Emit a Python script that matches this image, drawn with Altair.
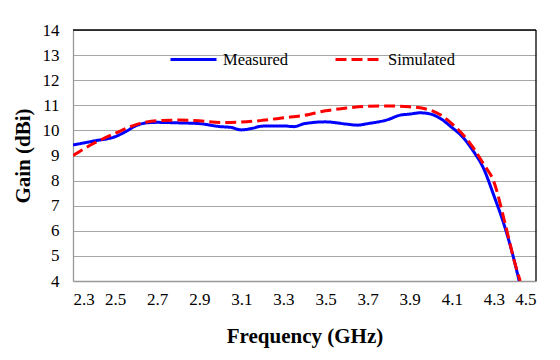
import altair as alt
import pandas as pd

measured_f = [2.30, 2.40, 2.50, 2.55, 2.60, 2.65, 2.70, 2.80, 2.90, 3.00, 3.05, 3.10, 3.15, 3.20,
              3.30, 3.35, 3.40, 3.50, 3.60, 3.65, 3.70, 3.80, 3.85, 3.90, 3.95, 4.00, 4.05, 4.10,
              4.15, 4.20, 4.25, 4.30, 4.35, 4.40, 4.42]
measured_g = [9.42, 9.58, 9.75, 9.95, 10.19, 10.30, 10.32, 10.30, 10.27, 10.15, 10.12, 10.02, 10.08, 10.17,
              10.18, 10.15, 10.27, 10.34, 10.25, 10.21, 10.27, 10.44, 10.60, 10.65, 10.70, 10.65, 10.45, 10.12,
              9.75, 9.20, 8.50, 7.40, 6.20, 4.70, 4.00]

simulated_f = [2.30, 2.40, 2.50, 2.60, 2.70, 2.80, 2.90, 3.00, 3.10, 3.20, 3.30, 3.40, 3.50, 3.60,
               3.70, 3.80, 3.90, 4.00, 4.05, 4.10, 4.15, 4.20, 4.25, 4.30, 4.35, 4.40, 4.425]
simulated_g = [9.00, 9.49, 9.88, 10.23, 10.39, 10.41, 10.38, 10.31, 10.33, 10.40, 10.50, 10.60, 10.78, 10.89,
               10.96, 10.97, 10.94, 10.80, 10.60, 10.27, 9.86, 9.33, 8.67, 7.95, 6.40, 4.70, 4.00]

series_names = ["Measured", "Simulated"]
series_colors = ["#0000ff", "#ff0000"]
x_ticks = [2.3, 2.5, 2.7, 2.9, 3.1, 3.3, 3.5, 3.7, 3.9, 4.1, 4.3, 4.5]
y_ticks = [4, 5, 6, 7, 8, 9, 10, 11, 12, 13, 14]

df = pd.concat([
    pd.DataFrame({"f": measured_f, "g": measured_g, "s": "Measured", "o": range(len(measured_f))}),
    pd.DataFrame({"f": simulated_f, "g": simulated_g, "s": "Simulated", "o": range(len(simulated_f))}),
])

W, H = 463, 251
FONT = "Liberation Serif"

lines = alt.Chart(df).mark_line(strokeWidth=3, interpolate="monotone", clip=True).encode(
    x=alt.X("f:Q", scale=alt.Scale(domain=[2.3, 4.5], nice=False, zero=False),
            axis=alt.Axis(values=x_ticks, format=".1f", title="Frequency (GHz)", grid=False,
                          ticks=False, labelPadding=10, titlePadding=18,
                          labelFont=FONT, titleFont=FONT)),
    y=alt.Y("g:Q", scale=alt.Scale(domain=[4, 14], nice=False, zero=False),
            axis=alt.Axis(values=y_ticks, title="Gain (dBi)", grid=True, ticks=False,
                          labelPadding=14, titlePadding=9,
                          labelFont=FONT, titleFont=FONT)),
    color=alt.Color("s:N", scale=alt.Scale(domain=series_names, range=series_colors),
                    legend=alt.Legend(title=None, orient="none", legendX=96, legendY=5,
                                      direction="horizontal", symbolType="stroke",
                                      symbolSize=2116, symbolStrokeWidth=3,
                                      labelFontSize=16.5, labelFont=FONT, labelColor="#000",
                                      columnPadding=40, labelOffset=5)),
    strokeDash=alt.StrokeDash("s:N", scale=alt.Scale(domain=series_names, range=[[1, 0], [11, 5]]),
                              legend=None),
    order="o:Q",
)

top_border = alt.Chart().mark_rule(color="#000", strokeWidth=1.3).encode(
    x=alt.value(0), x2=alt.value(W), y=alt.value(0))
right_border = alt.Chart().mark_rule(color="#000", strokeWidth=1.3).encode(
    x=alt.value(W), y=alt.value(0), y2=alt.value(H))

chart = alt.layer(lines, top_border, right_border).properties(
    width=W, height=H,
    autosize=alt.AutoSizeParams(type="none"),
    padding={"left": 65, "top": 22, "right": 16, "bottom": 70},
).configure(font=FONT).configure_view(stroke=None).configure_axis(
    labelFont=FONT, labelFontSize=17, labelColor="#000",
    titleFont=FONT, titleFontSize=21, titleFontWeight="bold", titleColor="#000",
    domainColor="#999999", domainWidth=1.3, gridColor="#a6a6a6", gridWidth=1,
).configure_legend(labelFont=FONT)

chart.save("out.html", embed_options={"renderer": "svg", "actions": False})
